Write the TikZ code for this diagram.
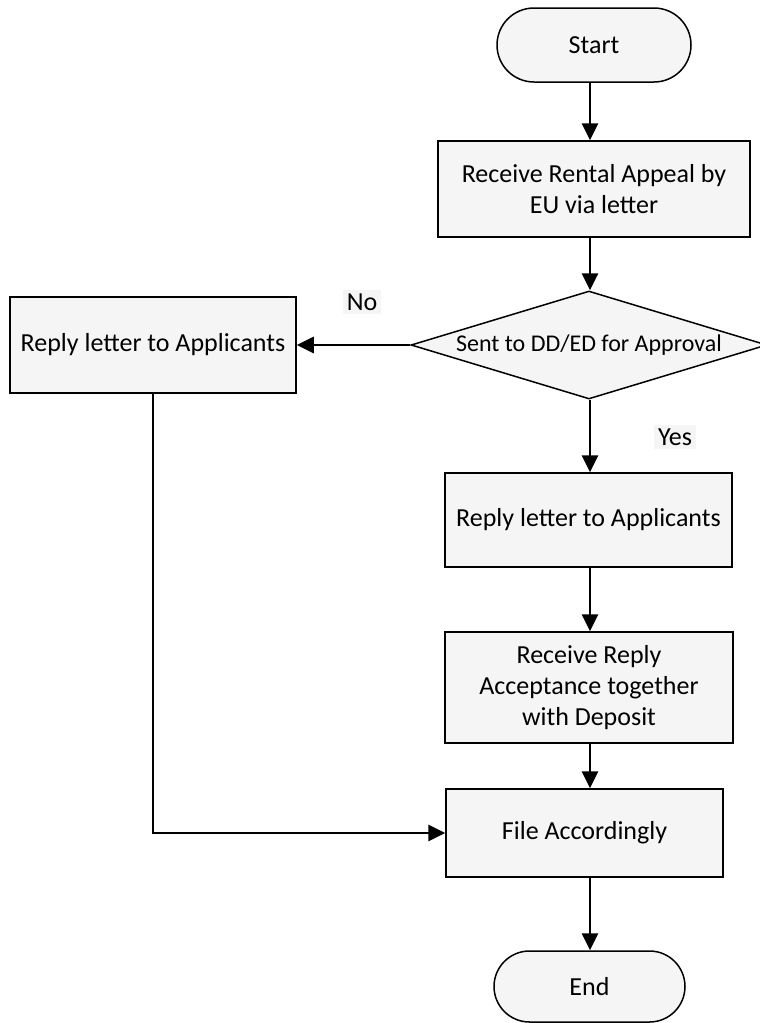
\documentclass[tikz,border=0pt]{standalone}
\usepackage{fontspec}
\setmainfont{Carlito}
\usetikzlibrary{shapes.geometric,shapes.misc,arrows.meta}
\begin{document}
\begin{tikzpicture}[x=1pt,y=-1pt,
  every node/.style={font=\fontsize{26}{31}\selectfont},
  proc/.style={draw=black, line width=1.5pt, fill=black!4, rectangle, align=center, inner sep=0pt},
  term/.style={draw=black, line width=1.5pt, fill=black!4, rounded rectangle, inner sep=0pt},
  decision/.style={draw=black, line width=1.5pt, fill=black!4, diamond, aspect=3.3, inner sep=0pt, font=\fontsize{24}{28}\selectfont},
  arr/.style={line width=2.8pt, -{Triangle[length=17pt,width=16pt]}},
  lab/.style={fill=black!4, inner sep=4pt}]
\useasboundingbox (0,0) rectangle (760,1023);
\fill[white] (0,0) rectangle (760,1023);

\coordinate (ax) at (590,0);

\node[term, minimum width=194pt, minimum height=74pt] (start) at (594,45) {Start};
\node[proc, minimum width=312pt, minimum height=96pt] (recv) at (594,189) {Receive Rental Appeal by\\EU via letter};
\node[decision, minimum width=356pt, minimum height=108pt] (dec) at (589,345) {Sent to DD/ED for Approval};
\node[proc, minimum width=286pt, minimum height=96pt] (lbox) at (153,345) {Reply letter to Applicants};
\node[proc, minimum width=287pt, minimum height=94pt] (rbox) at (588.5,520) {Reply letter to Applicants};
\node[proc, minimum width=288pt, minimum height=111pt] (dep) at (589,687.5) {Receive Reply\\Acceptance together\\with Deposit};
\node[proc, minimum width=277pt, minimum height=88pt] (file) at (584.5,833) {File Accordingly};
\node[term, minimum width=191pt, minimum height=71pt] (end) at (589.5,986.5) {End};

\node[lab] (no) at (362,302) {No};
\node[lab] (yes) at (675,437) {Yes};

\draw[arr] (ax |- start.south) -- (ax |- recv.north);
\draw[arr] (ax |- recv.south) -- (ax |- dec.north);
\draw[arr] (dec.west) -- (lbox.east);
\draw[arr] (ax |- dec.south) -- (ax |- rbox.north);
\draw[arr] (ax |- rbox.south) -- (ax |- dep.north);
\draw[arr] (ax |- dep.south) -- (ax |- file.north);
\draw[arr] (lbox.south) |- (file.west);
\draw[arr] (ax |- file.south) -- (ax |- end.north);
\end{tikzpicture}
\end{document}
